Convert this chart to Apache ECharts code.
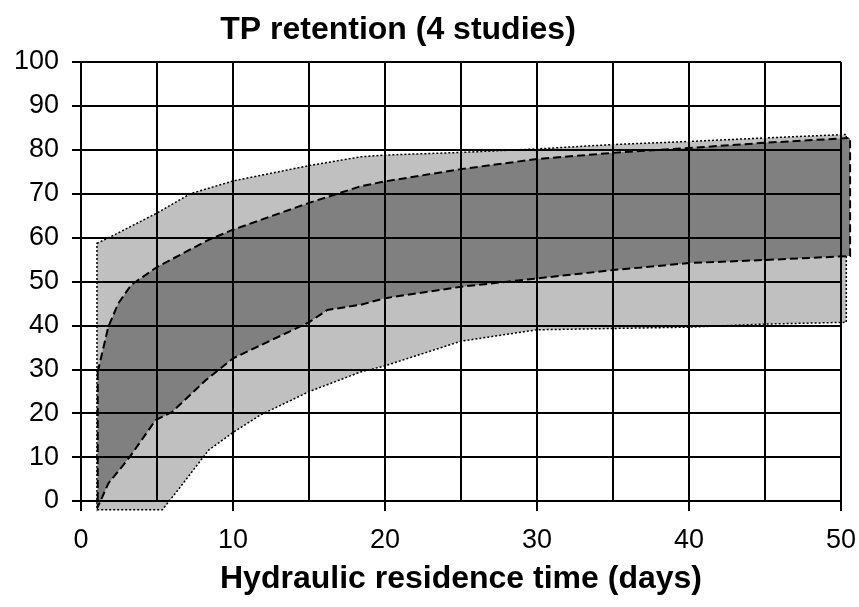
<!DOCTYPE html>
<html>
<head>
<meta charset="utf-8">
<title>TP retention</title>
<script src="https://cdn.jsdelivr.net/npm/echarts@6/dist/echarts.min.js"></script>
<style>
  html, body { margin: 0; padding: 0; background: #fff; }
  #chart { width: 859px; height: 607px; }
</style>
</head>
<body>
<div id="chart"></div>
<script>
// Envelope curves of TP retention (%) versus hydraulic residence time (days)
// Outer envelope (light band, dotted border)
const outerUpper = [[1.05, 58.7], [1.9, 60.1], [5, 65.6], [7.2, 70], [10, 72.9], [15, 76.4], [18.4, 78.4], [20, 78.8], [25, 79.4], [30, 80.2], [35, 81.2], [40, 81.9], [45, 82.7], [50.35, 83.5]];
const outerLower = [[1.05, -2], [5.35, -2], [6.2, 1.7], [7.2, 6.2], [8.4, 11.6], [10, 15.6], [11.8, 19.6], [15, 24.9], [18.4, 29.4], [20, 30.8], [25, 36.4], [30, 39], [35, 39.3], [40, 39.6], [45, 40.3], [50.35, 40.7]];
// Inner envelope (dark band, dashed border)
const innerUpper = [[1.1, 29.4], [1.8, 39.7], [2.45, 45], [3.3, 49.2], [5, 53.3], [8.4, 59.5], [10, 61.8], [15, 67.9], [18.4, 71.7], [20, 72.8], [25, 75.6], [30, 77.9], [35, 79.3], [40, 80.4], [45, 81.6], [50.6, 82.7]];
const innerLower = [[1.1, -1.4], [1.8, 4], [3.2, 10], [4.9, 18.4], [6, 20.3], [8.2, 27.5], [10, 32.5], [15, 40.7], [16.2, 43.5], [18.4, 44.7], [20, 46.2], [25, 48.8], [30, 50.7], [35, 52.6], [40, 54.2], [45, 54.9], [50.6, 55.8]];

const xTicks = [0, 10, 20, 30, 40, 50];
const yTicks = [0, 10, 20, 30, 40, 50, 60, 70, 80, 90, 100];

const FONT = '"Liberation Sans", Arial, sans-serif';

// Closed polygon: upper edge left→right, then lower edge right→left
function bandRenderer(upper, lower, fill, dash, lineWidth) {
  return function (params, api) {
    const pts = upper.map(p => api.coord(p))
      .concat(lower.slice().reverse().map(p => api.coord(p)));
    return {
      type: 'polygon',
      shape: { points: pts },
      style: { fill: fill, stroke: '#000', lineWidth: lineWidth, lineDash: dash }
    };
  };
}

const chart = echarts.init(document.getElementById('chart'), null, { renderer: 'canvas' });

chart.setOption({
  animation: false,
  backgroundColor: '#fff',
  title: {
    text: 'TP retention (4 studies)',
    left: 393,
    top: 9,
    textAlign: 'center',
    textStyle: { fontFamily: FONT, fontSize: 32, fontWeight: 'bold', color: '#000' }
  },
  grid: { left: 81, right: 18, top: 62, bottom: 106, containLabel: false },
  xAxis: {
    type: 'value',
    min: xTicks[0],
    max: xTicks[xTicks.length - 1],
    interval: 10,
    z: 5,
    name: 'Hydraulic residence time (days)',
    nameLocation: 'middle',
    nameGap: 62,
    nameTextStyle: { fontFamily: FONT, fontSize: 32, fontWeight: 'bold', color: '#000' },
    axisLine: { show: true, onZero: false, lineStyle: { color: '#000', width: 2 } },
    axisTick: { show: true, length: 10, lineStyle: { color: '#000', width: 2 } },
    axisLabel: { fontFamily: FONT, fontSize: 27, color: '#000', margin: 26 },
    splitLine: { show: true, lineStyle: { color: '#000', width: 2 } },
    minorTick: { show: false, splitNumber: 2 },
    minorSplitLine: { show: true, lineStyle: { color: '#000', width: 2 } }
  },
  yAxis: {
    type: 'value',
    min: yTicks[0],
    max: yTicks[yTicks.length - 1],
    interval: 10,
    z: 5,
    axisLine: { show: true, onZero: false, lineStyle: { color: '#000', width: 2 } },
    axisTick: { show: true, length: 9, lineStyle: { color: '#000', width: 2 } },
    axisLabel: { fontFamily: FONT, fontSize: 27, color: '#000', margin: 22 },
    splitLine: { show: true, lineStyle: { color: '#000', width: 2 } }
  },
  series: [
    {
      type: 'custom',
      name: 'outer',
      z: 1,
      clip: false,
      silent: true,
      data: [[0, 0]],
      renderItem: bandRenderer(outerUpper, outerLower, '#c0c0c0', [2, 2], 1.5)
    },
    {
      type: 'custom',
      name: 'inner',
      z: 2,
      clip: false,
      silent: true,
      data: [[0, 0]],
      renderItem: bandRenderer(innerUpper, innerLower, '#808080', [8, 4], 2)
    }
  ]
});
</script>
</body>
</html>
